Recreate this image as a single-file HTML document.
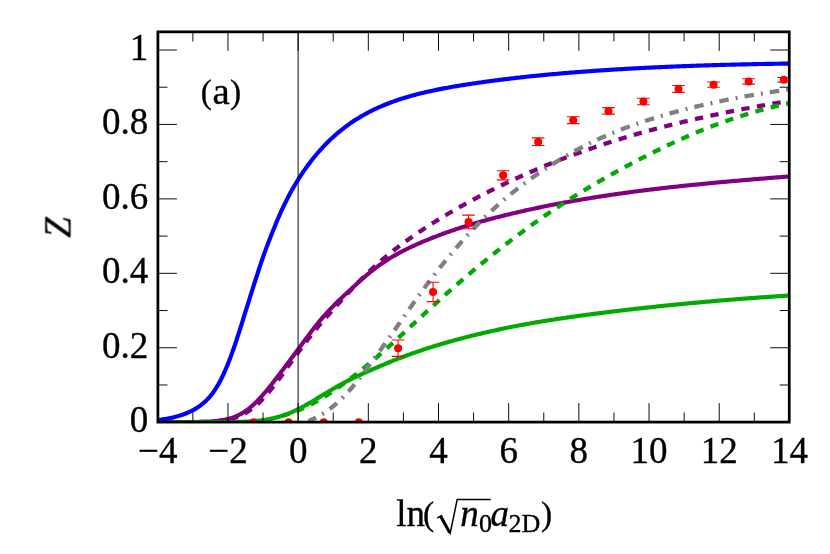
<!DOCTYPE html>
<html><head><meta charset="utf-8"><title>Z plot</title>
<style>html,body{margin:0;padding:0;background:#fff;}svg{display:block;font-family:"Liberation Serif",serif;}</style></head><body>
<svg width="830" height="554" viewBox="0 0 830 554">
<rect x="0" y="0" width="830" height="554" fill="#ffffff"/>
<defs><clipPath id="clip"><rect x="157.90" y="31.85" width="631.35" height="390.25"/></clipPath></defs>
<g clip-path="url(#clip)" fill="none" stroke-linecap="butt" stroke-linejoin="round">
<path d="M157.78 422.20L159.05 422.20L160.31 422.20L161.58 422.20L162.84 422.20L164.11 422.19L165.37 422.19L166.64 422.19L167.91 422.19L169.17 422.19L170.44 422.19L171.70 422.19L172.97 422.19L174.24 422.18L175.50 422.18L176.77 422.18L178.03 422.18L179.30 422.17L180.56 422.17L181.83 422.16L183.10 422.16L184.36 422.15L185.63 422.14L186.89 422.14L188.16 422.13L189.42 422.12L190.69 422.10L191.96 422.09L193.22 422.07L194.49 422.06L195.75 422.04L197.02 422.01L198.28 421.99L199.55 421.96L200.82 421.92L202.08 421.89L203.35 421.85L204.61 421.80L205.88 421.75L207.15 421.69L208.41 421.62L209.68 421.55L210.94 421.46L212.21 421.37L213.47 421.27L214.74 421.15L216.01 421.03L217.27 420.88L218.54 420.73L219.80 420.56L221.07 420.37L222.33 420.16L223.60 419.93L224.87 419.68L226.13 419.40L227.40 419.10L228.66 418.78L229.93 418.42L231.19 418.04L232.46 417.62L233.73 417.17L234.99 416.68L236.26 416.15L237.52 415.59L238.79 414.98L240.06 414.33L241.32 413.64L242.59 412.91L243.85 412.13L245.12 411.30L246.38 410.43L247.65 409.50L248.92 408.53L250.18 407.51L251.45 406.45L252.71 405.34L253.98 404.18L255.24 402.98L256.51 401.74L257.78 400.46L259.04 399.14L260.31 397.78L261.57 396.39L262.84 394.96L264.10 393.51L265.37 392.03L266.64 390.52L267.90 388.98L269.17 387.43L270.43 385.85L271.70 384.26L272.97 382.65L274.23 381.03L275.50 379.39L276.76 377.74L278.03 376.09L279.29 374.43L280.56 372.76L281.83 371.09L283.09 369.41L284.36 367.73L285.62 366.04L286.89 364.36L288.15 362.67L289.42 360.98L290.69 359.29L291.95 357.60L293.22 355.91L294.48 354.22L295.75 352.52L297.01 350.81L298.28 349.11L299.55 347.39L300.81 345.68L302.08 343.96L303.34 342.24L304.61 340.53L305.88 338.82L307.14 337.11L308.41 335.42L309.67 333.73L310.94 332.06L312.20 330.40L313.47 328.77L314.74 327.15L316.00 325.55L317.27 323.98L318.53 322.43L319.80 320.91L321.06 319.41L322.33 317.93L323.60 316.48L324.86 315.04L326.13 313.64L327.39 312.25L328.66 310.88L329.92 309.53L331.19 308.21L332.46 306.90L333.72 305.61L334.99 304.33L336.25 303.08L337.52 301.83L338.79 300.60L340.05 299.38L341.32 298.18L342.58 296.98L343.85 295.79L345.11 294.61L346.38 293.43L347.65 292.26L348.91 291.09L350.18 289.93L351.44 288.76L352.71 287.60L353.97 286.43L355.24 285.27L356.51 284.11L357.77 282.96L359.04 281.81L360.30 280.67L361.57 279.55L362.83 278.43L364.10 277.32L365.37 276.23L366.63 275.15L367.90 274.09L369.16 273.04L370.43 272.01L371.70 271.01L372.96 270.01L374.23 269.04L375.49 268.08L376.76 267.14L378.02 266.21L379.29 265.31L380.56 264.41L381.82 263.54L383.09 262.68L384.35 261.83L385.62 261.00L386.88 260.18L388.15 259.38L389.42 258.59L390.68 257.82L391.95 257.06L393.21 256.31L394.48 255.58L395.75 254.86L397.01 254.15L398.28 253.45L399.54 252.76L400.81 252.09L402.07 251.42L403.34 250.77L404.61 250.12L405.87 249.49L407.14 248.86L408.40 248.25L409.67 247.64L410.93 247.04L412.20 246.45L413.47 245.86L414.73 245.29L416.00 244.72L417.26 244.15L418.53 243.60L419.79 243.04L421.06 242.50L422.33 241.96L423.59 241.42L424.86 240.89L426.12 240.36L427.39 239.84L428.66 239.32L429.92 238.81L431.19 238.30L432.45 237.80L433.72 237.30L434.98 236.81L436.25 236.32L437.52 235.83L438.78 235.35L440.05 234.88L441.31 234.41L442.58 233.94L443.84 233.48L445.11 233.02L446.38 232.56L447.64 232.11L448.91 231.67L450.17 231.22L451.44 230.78L452.70 230.35L453.97 229.92L455.24 229.49L456.50 229.07L457.77 228.65L459.03 228.24L460.30 227.83L461.57 227.42L462.83 227.01L464.10 226.61L465.36 226.22L466.63 225.82L467.89 225.43L469.16 225.04L470.43 224.66L471.69 224.28L472.96 223.90L474.22 223.53L475.49 223.16L476.75 222.79L478.02 222.43L479.29 222.06L480.55 221.70L481.82 221.35L483.08 221.00L484.35 220.65L485.61 220.30L486.88 219.95L488.15 219.61L489.41 219.27L490.68 218.93L491.94 218.60L493.21 218.27L494.48 217.94L495.74 217.61L497.01 217.28L498.27 216.96L499.54 216.64L500.80 216.32L502.07 216.01L503.34 215.69L504.60 215.38L505.87 215.07L507.13 214.76L508.40 214.45L509.66 214.15L510.93 213.84L512.20 213.54L513.46 213.24L514.73 212.95L515.99 212.65L517.26 212.36L518.52 212.06L519.79 211.77L521.06 211.48L522.32 211.20L523.59 210.91L524.85 210.63L526.12 210.34L527.39 210.06L528.65 209.79L529.92 209.51L531.18 209.23L532.45 208.96L533.71 208.69L534.98 208.42L536.25 208.15L537.51 207.88L538.78 207.62L540.04 207.35L541.31 207.09L542.57 206.83L543.84 206.57L545.11 206.31L546.37 206.06L547.64 205.80L548.90 205.55L550.17 205.30L551.43 205.05L552.70 204.80L553.97 204.55L555.23 204.31L556.50 204.06L557.76 203.82L559.03 203.58L560.30 203.34L561.56 203.10L562.83 202.87L564.09 202.63L565.36 202.40L566.62 202.17L567.89 201.94L569.16 201.71L570.42 201.48L571.69 201.25L572.95 201.03L574.22 200.81L575.48 200.58L576.75 200.36L578.02 200.14L579.28 199.93L580.55 199.71L581.81 199.49L583.08 199.28L584.35 199.07L585.61 198.86L586.88 198.65L588.14 198.44L589.41 198.23L590.67 198.02L591.94 197.82L593.21 197.62L594.47 197.41L595.74 197.21L597.00 197.01L598.27 196.81L599.53 196.62L600.80 196.42L602.07 196.23L603.33 196.03L604.60 195.84L605.86 195.65L607.13 195.46L608.39 195.27L609.66 195.08L610.93 194.89L612.19 194.71L613.46 194.52L614.72 194.34L615.99 194.16L617.26 193.98L618.52 193.80L619.79 193.62L621.05 193.44L622.32 193.27L623.58 193.09L624.85 192.92L626.12 192.74L627.38 192.57L628.65 192.40L629.91 192.23L631.18 192.06L632.44 191.89L633.71 191.72L634.98 191.56L636.24 191.39L637.51 191.23L638.77 191.06L640.04 190.90L641.30 190.74L642.57 190.58L643.84 190.42L645.10 190.26L646.37 190.10L647.63 189.95L648.90 189.79L650.17 189.64L651.43 189.48L652.70 189.33L653.96 189.18L655.23 189.03L656.49 188.88L657.76 188.73L659.03 188.58L660.29 188.43L661.56 188.28L662.82 188.14L664.09 187.99L665.35 187.85L666.62 187.70L667.89 187.56L669.15 187.42L670.42 187.27L671.68 187.13L672.95 186.99L674.21 186.85L675.48 186.72L676.75 186.58L678.01 186.44L679.28 186.31L680.54 186.17L681.81 186.04L683.08 185.90L684.34 185.77L685.61 185.63L686.87 185.50L688.14 185.37L689.40 185.24L690.67 185.11L691.94 184.98L693.20 184.85L694.47 184.72L695.73 184.60L697.00 184.47L698.26 184.34L699.53 184.22L700.80 184.09L702.06 183.97L703.33 183.85L704.59 183.72L705.86 183.60L707.12 183.48L708.39 183.36L709.66 183.23L710.92 183.11L712.19 182.99L713.45 182.88L714.72 182.76L715.99 182.64L717.25 182.52L718.52 182.40L719.78 182.29L721.05 182.17L722.31 182.05L723.58 181.94L724.85 181.82L726.11 181.71L727.38 181.59L728.64 181.48L729.91 181.37L731.17 181.26L732.44 181.14L733.71 181.03L734.97 180.92L736.24 180.81L737.50 180.70L738.77 180.59L740.03 180.48L741.30 180.37L742.57 180.26L743.83 180.15L745.10 180.04L746.36 179.93L747.63 179.83L748.90 179.72L750.16 179.61L751.43 179.50L752.69 179.40L753.96 179.29L755.22 179.19L756.49 179.08L757.76 178.97L759.02 178.87L760.29 178.76L761.55 178.66L762.82 178.56L764.08 178.45L765.35 178.35L766.62 178.24L767.88 178.14L769.15 178.04L770.41 177.93L771.68 177.83L772.94 177.73L774.21 177.63L775.48 177.52L776.74 177.42L778.01 177.32L779.27 177.22L780.54 177.12L781.81 177.02L783.07 176.91L784.34 176.81L785.60 176.71L786.87 176.61L788.13 176.51L789.40 176.41" stroke="#800080" stroke-width="4.15"/>
<path d="M157.78 422.19L159.05 422.19L160.31 422.19L161.58 422.19L162.84 422.19L164.11 422.19L165.37 422.19L166.64 422.18L167.91 422.18L169.17 422.18L170.44 422.18L171.70 422.18L172.97 422.18L174.24 422.17L175.50 422.17L176.77 422.17L178.03 422.16L179.30 422.16L180.56 422.16L181.83 422.15L183.10 422.15L184.36 422.14L185.63 422.14L186.89 422.13L188.16 422.12L189.42 422.11L190.69 422.10L191.96 422.09L193.22 422.08L194.49 422.06L195.75 422.05L197.02 422.03L198.28 422.01L199.55 421.98L200.82 421.96L202.08 421.93L203.35 421.90L204.61 421.86L205.88 421.82L207.15 421.77L208.41 421.72L209.68 421.67L210.94 421.60L212.21 421.53L213.47 421.45L214.74 421.36L216.01 421.26L217.27 421.15L218.54 421.03L219.80 420.90L221.07 420.75L222.33 420.59L223.60 420.40L224.87 420.20L226.13 419.99L227.40 419.75L228.66 419.48L229.93 419.20L231.19 418.88L232.46 418.54L233.73 418.17L234.99 417.77L236.26 417.34L237.52 416.87L238.79 416.37L240.06 415.83L241.32 415.25L242.59 414.63L243.85 413.97L245.12 413.27L246.38 412.53L247.65 411.74L248.92 410.91L250.18 410.04L251.45 409.12L252.71 408.16L253.98 407.15L255.24 406.10L256.51 405.00L257.78 403.86L259.04 402.67L260.31 401.44L261.57 400.17L262.84 398.86L264.10 397.50L265.37 396.11L266.64 394.68L267.90 393.21L269.17 391.71L270.43 390.17L271.70 388.61L272.97 387.01L274.23 385.39L275.50 383.74L276.76 382.07L278.03 380.38L279.29 378.67L280.56 376.94L281.83 375.21L283.09 373.45L284.36 371.69L285.62 369.92L286.89 368.15L288.15 366.37L289.42 364.59L290.69 362.81L291.95 361.03L293.22 359.26L294.48 357.49L295.75 355.73L297.01 353.98L298.28 352.23L299.55 350.50L300.81 348.77L302.08 347.06L303.34 345.37L304.61 343.68L305.88 342.01L307.14 340.36L308.41 338.72L309.67 337.10L310.94 335.49L312.20 333.90L313.47 332.32L314.74 330.76L316.00 329.22L317.27 327.69L318.53 326.17L319.80 324.67L321.06 323.18L322.33 321.70L323.60 320.23L324.86 318.78L326.13 317.33L327.39 315.89L328.66 314.46L329.92 313.04L331.19 311.62L332.46 310.21L333.72 308.79L334.99 307.38L336.25 305.98L337.52 304.57L338.79 303.17L340.05 301.77L341.32 300.38L342.58 298.99L343.85 297.60L345.11 296.22L346.38 294.85L347.65 293.48L348.91 292.12L350.18 290.76L351.44 289.41L352.71 288.07L353.97 286.74L355.24 285.42L356.51 284.11L357.77 282.80L359.04 281.50L360.30 280.22L361.57 278.94L362.83 277.68L364.10 276.43L365.37 275.18L366.63 273.95L367.90 272.73L369.16 271.53L370.43 270.33L371.70 269.15L372.96 267.98L374.23 266.82L375.49 265.67L376.76 264.54L378.02 263.41L379.29 262.30L380.56 261.20L381.82 260.11L383.09 259.03L384.35 257.96L385.62 256.91L386.88 255.86L388.15 254.82L389.42 253.80L390.68 252.78L391.95 251.77L393.21 250.77L394.48 249.78L395.75 248.80L397.01 247.83L398.28 246.87L399.54 245.91L400.81 244.96L402.07 244.02L403.34 243.09L404.61 242.17L405.87 241.25L407.14 240.34L408.40 239.43L409.67 238.53L410.93 237.64L412.20 236.75L413.47 235.87L414.73 234.99L416.00 234.12L417.26 233.26L418.53 232.40L419.79 231.54L421.06 230.70L422.33 229.85L423.59 229.01L424.86 228.18L426.12 227.35L427.39 226.53L428.66 225.71L429.92 224.90L431.19 224.09L432.45 223.29L433.72 222.49L434.98 221.70L436.25 220.91L437.52 220.12L438.78 219.34L440.05 218.56L441.31 217.79L442.58 217.03L443.84 216.26L445.11 215.50L446.38 214.75L447.64 214.00L448.91 213.25L450.17 212.51L451.44 211.77L452.70 211.04L453.97 210.31L455.24 209.58L456.50 208.86L457.77 208.14L459.03 207.42L460.30 206.71L461.57 206.00L462.83 205.30L464.10 204.60L465.36 203.90L466.63 203.21L467.89 202.52L469.16 201.83L470.43 201.15L471.69 200.47L472.96 199.79L474.22 199.12L475.49 198.45L476.75 197.78L478.02 197.12L479.29 196.46L480.55 195.80L481.82 195.15L483.08 194.50L484.35 193.85L485.61 193.20L486.88 192.56L488.15 191.92L489.41 191.28L490.68 190.65L491.94 190.02L493.21 189.39L494.48 188.76L495.74 188.14L497.01 187.52L498.27 186.90L499.54 186.28L500.80 185.67L502.07 185.06L503.34 184.45L504.60 183.85L505.87 183.24L507.13 182.64L508.40 182.05L509.66 181.45L510.93 180.86L512.20 180.27L513.46 179.68L514.73 179.10L515.99 178.52L517.26 177.94L518.52 177.36L519.79 176.79L521.06 176.22L522.32 175.65L523.59 175.08L524.85 174.52L526.12 173.96L527.39 173.40L528.65 172.84L529.92 172.29L531.18 171.74L532.45 171.19L533.71 170.65L534.98 170.10L536.25 169.56L537.51 169.03L538.78 168.49L540.04 167.96L541.31 167.43L542.57 166.90L543.84 166.38L545.11 165.85L546.37 165.33L547.64 164.81L548.90 164.30L550.17 163.79L551.43 163.28L552.70 162.77L553.97 162.26L555.23 161.76L556.50 161.26L557.76 160.76L559.03 160.27L560.30 159.77L561.56 159.28L562.83 158.79L564.09 158.31L565.36 157.82L566.62 157.34L567.89 156.86L569.16 156.39L570.42 155.91L571.69 155.44L572.95 154.97L574.22 154.50L575.48 154.04L576.75 153.58L578.02 153.12L579.28 152.66L580.55 152.20L581.81 151.75L583.08 151.30L584.35 150.85L585.61 150.40L586.88 149.96L588.14 149.51L589.41 149.07L590.67 148.64L591.94 148.20L593.21 147.77L594.47 147.34L595.74 146.91L597.00 146.48L598.27 146.05L599.53 145.63L600.80 145.21L602.07 144.79L603.33 144.38L604.60 143.96L605.86 143.55L607.13 143.14L608.39 142.73L609.66 142.32L610.93 141.92L612.19 141.52L613.46 141.12L614.72 140.72L615.99 140.32L617.26 139.93L618.52 139.54L619.79 139.15L621.05 138.76L622.32 138.37L623.58 137.99L624.85 137.61L626.12 137.23L627.38 136.85L628.65 136.47L629.91 136.10L631.18 135.73L632.44 135.36L633.71 134.99L634.98 134.62L636.24 134.25L637.51 133.89L638.77 133.53L640.04 133.17L641.30 132.81L642.57 132.46L643.84 132.10L645.10 131.75L646.37 131.40L647.63 131.05L648.90 130.70L650.17 130.36L651.43 130.01L652.70 129.67L653.96 129.33L655.23 128.99L656.49 128.66L657.76 128.32L659.03 127.99L660.29 127.65L661.56 127.32L662.82 127.00L664.09 126.67L665.35 126.34L666.62 126.02L667.89 125.70L669.15 125.38L670.42 125.06L671.68 124.74L672.95 124.43L674.21 124.11L675.48 123.80L676.75 123.49L678.01 123.18L679.28 122.87L680.54 122.56L681.81 122.26L683.08 121.95L684.34 121.65L685.61 121.35L686.87 121.05L688.14 120.76L689.40 120.46L690.67 120.16L691.94 119.87L693.20 119.58L694.47 119.29L695.73 119.00L697.00 118.71L698.26 118.43L699.53 118.14L700.80 117.86L702.06 117.57L703.33 117.29L704.59 117.01L705.86 116.74L707.12 116.46L708.39 116.18L709.66 115.91L710.92 115.64L712.19 115.37L713.45 115.09L714.72 114.83L715.99 114.56L717.25 114.29L718.52 114.03L719.78 113.76L721.05 113.50L722.31 113.24L723.58 112.98L724.85 112.72L726.11 112.46L727.38 112.20L728.64 111.95L729.91 111.69L731.17 111.44L732.44 111.19L733.71 110.94L734.97 110.69L736.24 110.44L737.50 110.19L738.77 109.95L740.03 109.70L741.30 109.46L742.57 109.21L743.83 108.97L745.10 108.73L746.36 108.49L747.63 108.25L748.90 108.01L750.16 107.78L751.43 107.54L752.69 107.31L753.96 107.08L755.22 106.84L756.49 106.61L757.76 106.38L759.02 106.15L760.29 105.92L761.55 105.70L762.82 105.47L764.08 105.25L765.35 105.02L766.62 104.80L767.88 104.58L769.15 104.35L770.41 104.13L771.68 103.91L772.94 103.70L774.21 103.48L775.48 103.26L776.74 103.05L778.01 102.83L779.27 102.62L780.54 102.41L781.81 102.19L783.07 101.98L784.34 101.77L785.60 101.56L786.87 101.35L788.13 101.15L789.40 100.94" stroke="#800080" stroke-width="4.3" stroke-dasharray="8.3 7.5" stroke-dashoffset="6.58"/>
<path d="M157.78 422.20L159.05 422.20L160.31 422.20L161.58 422.20L162.84 422.20L164.11 422.20L165.37 422.20L166.64 422.20L167.91 422.20L169.17 422.20L170.44 422.20L171.70 422.20L172.97 422.20L174.24 422.20L175.50 422.20L176.77 422.20L178.03 422.20L179.30 422.20L180.56 422.20L181.83 422.20L183.10 422.20L184.36 422.20L185.63 422.20L186.89 422.20L188.16 422.20L189.42 422.20L190.69 422.20L191.96 422.20L193.22 422.20L194.49 422.19L195.75 422.19L197.02 422.19L198.28 422.19L199.55 422.19L200.82 422.19L202.08 422.19L203.35 422.19L204.61 422.19L205.88 422.18L207.15 422.18L208.41 422.18L209.68 422.18L210.94 422.18L212.21 422.17L213.47 422.17L214.74 422.17L216.01 422.16L217.27 422.16L218.54 422.15L219.80 422.14L221.07 422.14L222.33 422.13L223.60 422.12L224.87 422.11L226.13 422.10L227.40 422.09L228.66 422.08L229.93 422.06L231.19 422.04L232.46 422.02L233.73 422.00L234.99 421.98L236.26 421.95L237.52 421.93L238.79 421.89L240.06 421.86L241.32 421.82L242.59 421.78L243.85 421.73L245.12 421.68L246.38 421.62L247.65 421.55L248.92 421.48L250.18 421.41L251.45 421.32L252.71 421.23L253.98 421.13L255.24 421.02L256.51 420.91L257.78 420.78L259.04 420.64L260.31 420.50L261.57 420.34L262.84 420.16L264.10 419.98L265.37 419.79L266.64 419.58L267.90 419.35L269.17 419.12L270.43 418.86L271.70 418.60L272.97 418.32L274.23 418.02L275.50 417.70L276.76 417.37L278.03 417.02L279.29 416.66L280.56 416.28L281.83 415.88L283.09 415.46L284.36 415.02L285.62 414.57L286.89 414.10L288.15 413.61L289.42 413.11L290.69 412.58L291.95 412.04L293.22 411.48L294.48 410.91L295.75 410.32L297.01 409.71L298.28 409.09L299.55 408.46L300.81 407.81L302.08 407.14L303.34 406.47L304.61 405.78L305.88 405.08L307.14 404.37L308.41 403.65L309.67 402.92L310.94 402.18L312.20 401.43L313.47 400.68L314.74 399.92L316.00 399.16L317.27 398.40L318.53 397.63L319.80 396.86L321.06 396.08L322.33 395.31L323.60 394.54L324.86 393.77L326.13 393.00L327.39 392.24L328.66 391.47L329.92 390.72L331.19 389.97L332.46 389.22L333.72 388.48L334.99 387.75L336.25 387.02L337.52 386.30L338.79 385.59L340.05 384.89L341.32 384.20L342.58 383.51L343.85 382.84L345.11 382.17L346.38 381.51L347.65 380.86L348.91 380.22L350.18 379.59L351.44 378.96L352.71 378.35L353.97 377.74L355.24 377.14L356.51 376.54L357.77 375.95L359.04 375.37L360.30 374.79L361.57 374.22L362.83 373.65L364.10 373.09L365.37 372.53L366.63 371.97L367.90 371.42L369.16 370.86L370.43 370.31L371.70 369.75L372.96 369.20L374.23 368.65L375.49 368.10L376.76 367.56L378.02 367.01L379.29 366.47L380.56 365.93L381.82 365.39L383.09 364.85L384.35 364.32L385.62 363.79L386.88 363.27L388.15 362.74L389.42 362.22L390.68 361.71L391.95 361.19L393.21 360.68L394.48 360.18L395.75 359.68L397.01 359.18L398.28 358.68L399.54 358.19L400.81 357.70L402.07 357.22L403.34 356.74L404.61 356.26L405.87 355.79L407.14 355.32L408.40 354.86L409.67 354.39L410.93 353.94L412.20 353.48L413.47 353.03L414.73 352.59L416.00 352.14L417.26 351.71L418.53 351.27L419.79 350.84L421.06 350.41L422.33 349.99L423.59 349.57L424.86 349.15L426.12 348.74L427.39 348.33L428.66 347.92L429.92 347.52L431.19 347.12L432.45 346.72L433.72 346.33L434.98 345.94L436.25 345.55L437.52 345.17L438.78 344.79L440.05 344.41L441.31 344.04L442.58 343.67L443.84 343.30L445.11 342.94L446.38 342.57L447.64 342.21L448.91 341.86L450.17 341.50L451.44 341.15L452.70 340.80L453.97 340.45L455.24 340.11L456.50 339.77L457.77 339.43L459.03 339.09L460.30 338.75L461.57 338.42L462.83 338.08L464.10 337.75L465.36 337.43L466.63 337.10L467.89 336.78L469.16 336.45L470.43 336.14L471.69 335.82L472.96 335.50L474.22 335.19L475.49 334.88L476.75 334.57L478.02 334.26L479.29 333.96L480.55 333.66L481.82 333.36L483.08 333.06L484.35 332.76L485.61 332.47L486.88 332.18L488.15 331.89L489.41 331.60L490.68 331.31L491.94 331.03L493.21 330.75L494.48 330.47L495.74 330.19L497.01 329.92L498.27 329.65L499.54 329.37L500.80 329.11L502.07 328.84L503.34 328.57L504.60 328.31L505.87 328.05L507.13 327.79L508.40 327.53L509.66 327.28L510.93 327.03L512.20 326.78L513.46 326.53L514.73 326.28L515.99 326.03L517.26 325.79L518.52 325.55L519.79 325.31L521.06 325.07L522.32 324.83L523.59 324.60L524.85 324.37L526.12 324.14L527.39 323.91L528.65 323.68L529.92 323.46L531.18 323.23L532.45 323.01L533.71 322.79L534.98 322.57L536.25 322.35L537.51 322.14L538.78 321.92L540.04 321.71L541.31 321.50L542.57 321.29L543.84 321.09L545.11 320.88L546.37 320.68L547.64 320.47L548.90 320.27L550.17 320.07L551.43 319.87L552.70 319.68L553.97 319.48L555.23 319.28L556.50 319.09L557.76 318.90L559.03 318.71L560.30 318.52L561.56 318.33L562.83 318.15L564.09 317.96L565.36 317.78L566.62 317.59L567.89 317.41L569.16 317.23L570.42 317.05L571.69 316.87L572.95 316.69L574.22 316.52L575.48 316.34L576.75 316.17L578.02 316.00L579.28 315.82L580.55 315.65L581.81 315.48L583.08 315.31L584.35 315.14L585.61 314.97L586.88 314.81L588.14 314.64L589.41 314.47L590.67 314.31L591.94 314.14L593.21 313.98L594.47 313.82L595.74 313.66L597.00 313.49L598.27 313.33L599.53 313.17L600.80 313.01L602.07 312.85L603.33 312.69L604.60 312.54L605.86 312.38L607.13 312.22L608.39 312.07L609.66 311.91L610.93 311.75L612.19 311.60L613.46 311.45L614.72 311.29L615.99 311.14L617.26 310.99L618.52 310.84L619.79 310.69L621.05 310.54L622.32 310.39L623.58 310.24L624.85 310.09L626.12 309.94L627.38 309.79L628.65 309.65L629.91 309.50L631.18 309.35L632.44 309.21L633.71 309.06L634.98 308.92L636.24 308.78L637.51 308.63L638.77 308.49L640.04 308.35L641.30 308.21L642.57 308.07L643.84 307.93L645.10 307.79L646.37 307.65L647.63 307.51L648.90 307.38L650.17 307.24L651.43 307.10L652.70 306.97L653.96 306.83L655.23 306.70L656.49 306.56L657.76 306.43L659.03 306.30L660.29 306.17L661.56 306.03L662.82 305.90L664.09 305.77L665.35 305.64L666.62 305.51L667.89 305.38L669.15 305.26L670.42 305.13L671.68 305.00L672.95 304.88L674.21 304.75L675.48 304.62L676.75 304.50L678.01 304.38L679.28 304.25L680.54 304.13L681.81 304.01L683.08 303.88L684.34 303.76L685.61 303.64L686.87 303.52L688.14 303.40L689.40 303.28L690.67 303.16L691.94 303.05L693.20 302.93L694.47 302.81L695.73 302.69L697.00 302.58L698.26 302.46L699.53 302.35L700.80 302.23L702.06 302.12L703.33 302.01L704.59 301.89L705.86 301.78L707.12 301.67L708.39 301.56L709.66 301.45L710.92 301.34L712.19 301.23L713.45 301.12L714.72 301.01L715.99 300.90L717.25 300.80L718.52 300.69L719.78 300.58L721.05 300.48L722.31 300.37L723.58 300.27L724.85 300.16L726.11 300.06L727.38 299.95L728.64 299.85L729.91 299.75L731.17 299.65L732.44 299.55L733.71 299.45L734.97 299.35L736.24 299.25L737.50 299.15L738.77 299.05L740.03 298.95L741.30 298.85L742.57 298.75L743.83 298.66L745.10 298.56L746.36 298.46L747.63 298.37L748.90 298.27L750.16 298.18L751.43 298.09L752.69 297.99L753.96 297.90L755.22 297.81L756.49 297.72L757.76 297.62L759.02 297.53L760.29 297.44L761.55 297.35L762.82 297.26L764.08 297.17L765.35 297.08L766.62 297.00L767.88 296.91L769.15 296.82L770.41 296.73L771.68 296.65L772.94 296.56L774.21 296.48L775.48 296.39L776.74 296.31L778.01 296.22L779.27 296.14L780.54 296.05L781.81 295.97L783.07 295.89L784.34 295.81L785.60 295.73L786.87 295.64L788.13 295.56L789.40 295.48" stroke="#00aa00" stroke-width="4.15"/>
<path d="M281.65 416.01L282.67 415.74L283.68 415.45L284.70 415.16L285.72 414.86L286.74 414.55L287.75 414.23L288.77 413.90L289.79 413.56L290.81 413.21L291.82 412.86L292.84 412.49L293.86 412.12L294.88 411.73L295.89 411.34L296.91 410.94L297.93 410.52L298.95 410.10L299.96 409.67L300.98 409.23L302.00 408.79L303.02 408.33L304.03 407.86L305.05 407.39L306.07 406.90L307.09 406.41L308.10 405.91L309.12 405.40L310.14 404.88L311.16 404.35L312.17 403.81L313.19 403.27L314.21 402.71L315.23 402.15L316.24 401.58L317.26 401.00L318.28 400.42L319.30 399.83L320.31 399.22L321.33 398.62L322.35 398.00L323.37 397.38L324.38 396.75L325.40 396.11L326.42 395.47L327.44 394.82L328.45 394.16L329.47 393.50L330.49 392.83L331.51 392.16L332.52 391.48L333.54 390.79L334.56 390.10L335.58 389.40L336.59 388.70L337.61 387.99L338.63 387.27L339.65 386.55L340.67 385.83L341.68 385.10L342.70 384.36L343.72 383.63L344.74 382.88L345.75 382.13L346.77 381.38L347.79 380.62L348.81 379.86L349.82 379.09L350.84 378.32L351.86 377.55L352.88 376.77L353.89 375.99L354.91 375.20L355.93 374.41L356.95 373.61L357.96 372.81L358.98 372.01L360.00 371.20L361.02 370.38L362.03 369.57L363.05 368.75L364.07 367.92L365.09 367.09L366.10 366.25L367.12 365.41L368.14 364.57L369.16 363.72L370.17 362.86L371.19 362.01L372.21 361.14L373.23 360.28L374.24 359.41L375.26 358.53L376.28 357.65L377.30 356.77L378.31 355.88L379.33 354.99L380.35 354.10L381.37 353.20L382.38 352.30L383.40 351.40L384.42 350.50L385.44 349.59L386.45 348.68L387.47 347.76L388.49 346.85L389.51 345.93L390.52 345.01L391.54 344.09L392.56 343.16L393.58 342.24L394.59 341.31L395.61 340.38L396.63 339.45L397.65 338.51L398.66 337.58L399.68 336.64L400.70 335.71L401.72 334.77L402.73 333.83L403.75 332.89L404.77 331.95L405.79 331.01L406.81 330.06L407.82 329.12L408.84 328.18L409.86 327.24L410.88 326.29L411.89 325.35L412.91 324.41L413.93 323.46L414.95 322.52L415.96 321.58L416.98 320.63L418.00 319.69L419.02 318.75L420.03 317.81L421.05 316.87L422.07 315.93L423.09 314.99L424.10 314.05L425.12 313.11L426.14 312.18L427.16 311.24L428.17 310.31L429.19 309.37L430.21 308.44L431.23 307.51L432.24 306.58L433.26 305.65L434.28 304.73L435.30 303.80L436.31 302.88L437.33 301.95L438.35 301.03L439.37 300.11L440.38 299.20L441.40 298.28L442.42 297.37L443.44 296.45L444.45 295.54L445.47 294.63L446.49 293.73L447.51 292.82L448.52 291.92L449.54 291.02L450.56 290.12L451.58 289.22L452.59 288.32L453.61 287.43L454.63 286.54L455.65 285.65L456.66 284.76L457.68 283.88L458.70 282.99L459.72 282.11L460.73 281.23L461.75 280.36L462.77 279.48L463.79 278.61L464.80 277.74L465.82 276.87L466.84 276.00L467.86 275.14L468.88 274.28L469.89 273.42L470.91 272.56L471.93 271.70L472.95 270.85L473.96 270.00L474.98 269.15L476.00 268.30L477.02 267.45L478.03 266.61L479.05 265.77L480.07 264.93L481.09 264.09L482.10 263.25L483.12 262.42L484.14 261.58L485.16 260.75L486.17 259.92L487.19 259.10L488.21 258.27L489.23 257.45L490.24 256.63L491.26 255.81L492.28 254.99L493.30 254.17L494.31 253.36L495.33 252.55L496.35 251.74L497.37 250.93L498.38 250.13L499.40 249.32L500.42 248.52L501.44 247.72L502.45 246.93L503.47 246.13L504.49 245.34L505.51 244.55L506.52 243.76L507.54 242.98L508.56 242.19L509.58 241.41L510.59 240.63L511.61 239.85L512.63 239.08L513.65 238.31L514.66 237.54L515.68 236.77L516.70 236.00L517.72 235.24L518.73 234.48L519.75 233.72L520.77 232.96L521.79 232.21L522.80 231.46L523.82 230.71L524.84 229.96L525.86 229.22L526.87 228.47L527.89 227.73L528.91 227.00L529.93 226.26L530.94 225.53L531.96 224.80L532.98 224.07L534.00 223.34L535.02 222.62L536.03 221.89L537.05 221.18L538.07 220.46L539.09 219.74L540.10 219.03L541.12 218.32L542.14 217.61L543.16 216.91L544.17 216.20L545.19 215.50L546.21 214.80L547.23 214.11L548.24 213.41L549.26 212.72L550.28 212.03L551.30 211.35L552.31 210.66L553.33 209.98L554.35 209.30L555.37 208.62L556.38 207.94L557.40 207.27L558.42 206.60L559.44 205.93L560.45 205.26L561.47 204.60L562.49 203.93L563.51 203.27L564.52 202.61L565.54 201.96L566.56 201.30L567.58 200.65L568.59 200.00L569.61 199.35L570.63 198.71L571.65 198.06L572.66 197.42L573.68 196.78L574.70 196.15L575.72 195.51L576.73 194.88L577.75 194.25L578.77 193.62L579.79 192.99L580.80 192.37L581.82 191.74L582.84 191.12L583.86 190.50L584.87 189.89L585.89 189.27L586.91 188.66L587.93 188.05L588.94 187.44L589.96 186.83L590.98 186.22L592.00 185.62L593.01 185.02L594.03 184.42L595.05 183.82L596.07 183.23L597.09 182.63L598.10 182.04L599.12 181.45L600.14 180.86L601.16 180.27L602.17 179.69L603.19 179.11L604.21 178.52L605.23 177.94L606.24 177.37L607.26 176.79L608.28 176.21L609.30 175.64L610.31 175.07L611.33 174.50L612.35 173.93L613.37 173.37L614.38 172.80L615.40 172.24L616.42 171.68L617.44 171.12L618.45 170.56L619.47 170.00L620.49 169.45L621.51 168.90L622.52 168.34L623.54 167.79L624.56 167.25L625.58 166.70L626.59 166.15L627.61 165.61L628.63 165.07L629.65 164.52L630.66 163.98L631.68 163.45L632.70 162.91L633.72 162.37L634.73 161.84L635.75 161.31L636.77 160.78L637.79 160.25L638.80 159.72L639.82 159.19L640.84 158.67L641.86 158.14L642.87 157.62L643.89 157.10L644.91 156.58L645.93 156.06L646.94 155.54L647.96 155.03L648.98 154.51L650.00 154.00L651.01 153.49L652.03 152.98L653.05 152.47L654.07 151.96L655.08 151.46L656.10 150.96L657.12 150.45L658.14 149.95L659.15 149.45L660.17 148.96L661.19 148.46L662.21 147.97L663.23 147.48L664.24 146.99L665.26 146.50L666.28 146.01L667.30 145.53L668.31 145.05L669.33 144.57L670.35 144.09L671.37 143.61L672.38 143.14L673.40 142.66L674.42 142.19L675.44 141.72L676.45 141.25L677.47 140.79L678.49 140.33L679.51 139.86L680.52 139.41L681.54 138.95L682.56 138.49L683.58 138.04L684.59 137.59L685.61 137.14L686.63 136.69L687.65 136.25L688.66 135.81L689.68 135.36L690.70 134.93L691.72 134.49L692.73 134.06L693.75 133.62L694.77 133.19L695.79 132.77L696.80 132.34L697.82 131.92L698.84 131.50L699.86 131.08L700.87 130.66L701.89 130.25L702.91 129.83L703.93 129.42L704.94 129.01L705.96 128.61L706.98 128.21L708.00 127.80L709.01 127.41L710.03 127.01L711.05 126.62L712.07 126.22L713.08 125.83L714.10 125.45L715.12 125.06L716.14 124.68L717.15 124.30L718.17 123.92L719.19 123.54L720.21 123.17L721.22 122.80L722.24 122.43L723.26 122.06L724.28 121.70L725.30 121.33L726.31 120.98L727.33 120.62L728.35 120.26L729.37 119.91L730.38 119.56L731.40 119.21L732.42 118.86L733.44 118.52L734.45 118.18L735.47 117.84L736.49 117.50L737.51 117.17L738.52 116.84L739.54 116.51L740.56 116.18L741.58 115.85L742.59 115.53L743.61 115.21L744.63 114.89L745.65 114.58L746.66 114.26L747.68 113.95L748.70 113.64L749.72 113.33L750.73 113.03L751.75 112.73L752.77 112.43L753.79 112.13L754.80 111.83L755.82 111.54L756.84 111.25L757.86 110.96L758.87 110.68L759.89 110.39L760.91 110.11L761.93 109.83L762.94 109.55L763.96 109.28L764.98 109.00L766.00 108.73L767.01 108.46L768.03 108.20L769.05 107.93L770.07 107.67L771.08 107.41L772.10 107.16L773.12 106.90L774.14 106.65L775.15 106.40L776.17 106.15L777.19 105.90L778.21 105.66L779.22 105.41L780.24 105.17L781.26 104.94L782.28 104.70L783.29 104.47L784.31 104.24L785.33 104.01L786.35 103.78L787.36 103.55L788.38 103.33L789.40 103.11" stroke="#00aa00" stroke-width="4.3" stroke-dasharray="8.3 7.5" stroke-dashoffset="0.32"/>
<path d="M308.49 420.88L309.46 420.52L310.42 420.15L311.38 419.75L312.35 419.34L313.31 418.91L314.27 418.47L315.24 418.01L316.20 417.53L317.17 417.03L318.13 416.52L319.09 415.99L320.06 415.44L321.02 414.88L321.98 414.29L322.95 413.70L323.91 413.08L324.88 412.45L325.84 411.80L326.80 411.13L327.77 410.45L328.73 409.74L329.69 409.02L330.66 408.29L331.62 407.54L332.59 406.77L333.55 405.98L334.51 405.17L335.48 404.35L336.44 403.51L337.40 402.65L338.37 401.78L339.33 400.89L340.30 399.98L341.26 399.05L342.22 398.11L343.19 397.15L344.15 396.17L345.11 395.17L346.08 394.16L347.04 393.13L348.01 392.08L348.97 391.02L349.93 389.93L350.90 388.83L351.86 387.71L352.82 386.58L353.79 385.43L354.75 384.26L355.72 383.08L356.68 381.88L357.64 380.67L358.61 379.45L359.57 378.22L360.53 376.97L361.50 375.72L362.46 374.45L363.42 373.18L364.39 371.90L365.35 370.62L366.32 369.33L367.28 368.03L368.24 366.74L369.21 365.43L370.17 364.13L371.13 362.82L372.10 361.51L373.06 360.19L374.03 358.87L374.99 357.55L375.95 356.22L376.92 354.89L377.88 353.56L378.84 352.23L379.81 350.89L380.77 349.55L381.74 348.21L382.70 346.86L383.66 345.52L384.63 344.17L385.59 342.81L386.55 341.46L387.52 340.10L388.48 338.74L389.45 337.38L390.41 336.02L391.37 334.65L392.34 333.28L393.30 331.91L394.26 330.54L395.23 329.17L396.19 327.80L397.16 326.42L398.12 325.04L399.08 323.66L400.05 322.28L401.01 320.90L401.97 319.52L402.94 318.14L403.90 316.76L404.87 315.38L405.83 314.00L406.79 312.62L407.76 311.25L408.72 309.87L409.68 308.50L410.65 307.13L411.61 305.76L412.58 304.40L413.54 303.04L414.50 301.68L415.47 300.32L416.43 298.97L417.39 297.63L418.36 296.29L419.32 294.95L420.29 293.62L421.25 292.30L422.21 290.98L423.18 289.66L424.14 288.35L425.10 287.05L426.07 285.75L427.03 284.45L428.00 283.16L428.96 281.88L429.92 280.60L430.89 279.33L431.85 278.06L432.81 276.80L433.78 275.54L434.74 274.29L435.71 273.05L436.67 271.81L437.63 270.57L438.60 269.34L439.56 268.12L440.52 266.90L441.49 265.69L442.45 264.48L443.42 263.28L444.38 262.09L445.34 260.90L446.31 259.72L447.27 258.54L448.23 257.37L449.20 256.20L450.16 255.04L451.13 253.88L452.09 252.73L453.05 251.59L454.02 250.45L454.98 249.32L455.94 248.20L456.91 247.08L457.87 245.97L458.84 244.86L459.80 243.76L460.76 242.66L461.73 241.57L462.69 240.49L463.65 239.41L464.62 238.34L465.58 237.28L466.55 236.22L467.51 235.17L468.47 234.12L469.44 233.08L470.40 232.05L471.36 231.02L472.33 230.00L473.29 228.98L474.26 227.97L475.22 226.97L476.18 225.97L477.15 224.98L478.11 224.00L479.07 223.02L480.04 222.05L481.00 221.08L481.97 220.12L482.93 219.16L483.89 218.21L484.86 217.27L485.82 216.33L486.78 215.40L487.75 214.48L488.71 213.56L489.68 212.64L490.64 211.74L491.60 210.83L492.57 209.94L493.53 209.05L494.49 208.16L495.46 207.28L496.42 206.41L497.39 205.54L498.35 204.68L499.31 203.82L500.28 202.97L501.24 202.12L502.20 201.28L503.17 200.45L504.13 199.62L505.10 198.79L506.06 197.98L507.02 197.16L507.99 196.36L508.95 195.55L509.91 194.76L510.88 193.97L511.84 193.18L512.81 192.40L513.77 191.62L514.73 190.85L515.70 190.09L516.66 189.33L517.62 188.57L518.59 187.83L519.55 187.08L520.52 186.34L521.48 185.61L522.44 184.88L523.41 184.15L524.37 183.43L525.33 182.72L526.30 182.01L527.26 181.30L528.23 180.60L529.19 179.90L530.15 179.21L531.12 178.52L532.08 177.84L533.04 177.16L534.01 176.48L534.97 175.81L535.94 175.14L536.90 174.48L537.86 173.82L538.83 173.16L539.79 172.51L540.75 171.86L541.72 171.22L542.68 170.57L543.65 169.94L544.61 169.30L545.57 168.67L546.54 168.04L547.50 167.42L548.46 166.80L549.43 166.18L550.39 165.57L551.36 164.96L552.32 164.35L553.28 163.74L554.25 163.14L555.21 162.54L556.17 161.95L557.14 161.35L558.10 160.76L559.07 160.17L560.03 159.59L560.99 159.01L561.96 158.43L562.92 157.85L563.88 157.28L564.85 156.71L565.81 156.14L566.78 155.58L567.74 155.02L568.70 154.46L569.67 153.91L570.63 153.36L571.59 152.81L572.56 152.27L573.52 151.73L574.49 151.20L575.45 150.66L576.41 150.14L577.38 149.61L578.34 149.09L579.30 148.58L580.27 148.07L581.23 147.56L582.19 147.05L583.16 146.55L584.12 146.06L585.09 145.56L586.05 145.07L587.01 144.59L587.98 144.11L588.94 143.63L589.90 143.15L590.87 142.68L591.83 142.21L592.80 141.75L593.76 141.29L594.72 140.83L595.69 140.38L596.65 139.93L597.61 139.48L598.58 139.04L599.54 138.60L600.51 138.16L601.47 137.73L602.43 137.30L603.40 136.87L604.36 136.45L605.32 136.02L606.29 135.61L607.25 135.19L608.22 134.78L609.18 134.37L610.14 133.97L611.11 133.56L612.07 133.16L613.03 132.77L614.00 132.37L614.96 131.98L615.93 131.59L616.89 131.21L617.85 130.83L618.82 130.45L619.78 130.07L620.74 129.69L621.71 129.32L622.67 128.95L623.64 128.59L624.60 128.22L625.56 127.86L626.53 127.50L627.49 127.14L628.45 126.79L629.42 126.44L630.38 126.09L631.35 125.74L632.31 125.40L633.27 125.05L634.24 124.71L635.20 124.37L636.16 124.04L637.13 123.70L638.09 123.37L639.06 123.04L640.02 122.72L640.98 122.39L641.95 122.07L642.91 121.74L643.87 121.43L644.84 121.11L645.80 120.79L646.77 120.48L647.73 120.17L648.69 119.86L649.66 119.55L650.62 119.24L651.58 118.94L652.55 118.63L653.51 118.33L654.48 118.03L655.44 117.73L656.40 117.44L657.37 117.14L658.33 116.85L659.29 116.56L660.26 116.27L661.22 115.98L662.19 115.69L663.15 115.41L664.11 115.13L665.08 114.85L666.04 114.57L667.00 114.29L667.97 114.01L668.93 113.74L669.90 113.46L670.86 113.19L671.82 112.92L672.79 112.65L673.75 112.38L674.71 112.12L675.68 111.86L676.64 111.59L677.61 111.33L678.57 111.07L679.53 110.81L680.50 110.56L681.46 110.30L682.42 110.05L683.39 109.80L684.35 109.55L685.32 109.30L686.28 109.05L687.24 108.80L688.21 108.56L689.17 108.32L690.13 108.08L691.10 107.83L692.06 107.60L693.03 107.36L693.99 107.12L694.95 106.89L695.92 106.65L696.88 106.42L697.84 106.19L698.81 105.96L699.77 105.73L700.74 105.51L701.70 105.28L702.66 105.06L703.63 104.84L704.59 104.61L705.55 104.39L706.52 104.18L707.48 103.96L708.45 103.74L709.41 103.53L710.37 103.31L711.34 103.10L712.30 102.89L713.26 102.68L714.23 102.47L715.19 102.26L716.16 102.06L717.12 101.85L718.08 101.65L719.05 101.45L720.01 101.24L720.97 101.04L721.94 100.84L722.90 100.65L723.87 100.45L724.83 100.25L725.79 100.06L726.76 99.87L727.72 99.67L728.68 99.48L729.65 99.29L730.61 99.10L731.58 98.92L732.54 98.73L733.50 98.54L734.47 98.36L735.43 98.18L736.39 97.99L737.36 97.81L738.32 97.63L739.29 97.45L740.25 97.27L741.21 97.10L742.18 96.92L743.14 96.74L744.10 96.57L745.07 96.40L746.03 96.22L747.00 96.05L747.96 95.88L748.92 95.71L749.89 95.54L750.85 95.38L751.81 95.21L752.78 95.04L753.74 94.88L754.71 94.71L755.67 94.55L756.63 94.39L757.60 94.23L758.56 94.07L759.52 93.91L760.49 93.75L761.45 93.59L762.42 93.43L763.38 93.28L764.34 93.12L765.31 92.97L766.27 92.81L767.23 92.66L768.20 92.51L769.16 92.36L770.13 92.21L771.09 92.06L772.05 91.91L773.02 91.76L773.98 91.61L774.94 91.46L775.91 91.32L776.87 91.17L777.84 91.03L778.80 90.88L779.76 90.74L780.73 90.60L781.69 90.46L782.65 90.32L783.62 90.17L784.58 90.03L785.55 89.90L786.51 89.76L787.47 89.62L788.44 89.48L789.40 89.34" stroke="#808080" stroke-width="4.3" stroke-dasharray="9.5 7.07 2 7.07" stroke-dashoffset="1.32"/>
<path d="M157.78 420.08L159.05 419.92L160.31 419.75L161.58 419.57L162.84 419.37L164.11 419.17L165.37 418.96L166.64 418.73L167.91 418.49L169.17 418.24L170.44 417.98L171.70 417.70L172.97 417.41L174.24 417.11L175.50 416.78L176.77 416.45L178.03 416.09L179.30 415.72L180.56 415.32L181.83 414.91L183.10 414.47L184.36 414.02L185.63 413.54L186.89 413.03L188.16 412.49L189.42 411.93L190.69 411.34L191.96 410.71L193.22 410.05L194.49 409.35L195.75 408.61L197.02 407.83L198.28 407.00L199.55 406.13L200.82 405.20L202.08 404.21L203.35 403.17L204.61 402.05L205.88 400.87L207.15 399.61L208.41 398.27L209.68 396.84L210.94 395.31L212.21 393.69L213.47 391.96L214.74 390.12L216.01 388.18L217.27 386.12L218.54 383.94L219.80 381.64L221.07 379.22L222.33 376.67L223.60 374.00L224.87 371.21L226.13 368.29L227.40 365.24L228.66 362.08L229.93 358.79L231.19 355.40L232.46 351.89L233.73 348.29L234.99 344.59L236.26 340.81L237.52 336.95L238.79 333.03L240.06 329.06L241.32 325.05L242.59 321.01L243.85 316.96L245.12 312.91L246.38 308.85L247.65 304.80L248.92 300.76L250.18 296.73L251.45 292.71L252.71 288.70L253.98 284.72L255.24 280.75L256.51 276.80L257.78 272.89L259.04 269.01L260.31 265.18L261.57 261.42L262.84 257.73L264.10 254.11L265.37 250.58L266.64 247.13L267.90 243.75L269.17 240.44L270.43 237.18L271.70 233.97L272.97 230.81L274.23 227.69L275.50 224.60L276.76 221.55L278.03 218.56L279.29 215.63L280.56 212.77L281.83 209.98L283.09 207.27L284.36 204.62L285.62 202.04L286.89 199.53L288.15 197.07L289.42 194.68L290.69 192.35L291.95 190.07L293.22 187.84L294.48 185.67L295.75 183.54L297.01 181.46L298.28 179.43L299.55 177.44L300.81 175.49L302.08 173.57L303.34 171.70L304.61 169.87L305.88 168.08L307.14 166.32L308.41 164.60L309.67 162.91L310.94 161.26L312.20 159.64L313.47 158.06L314.74 156.50L316.00 154.98L317.27 153.49L318.53 152.02L319.80 150.59L321.06 149.18L322.33 147.80L323.60 146.45L324.86 145.12L326.13 143.82L327.39 142.54L328.66 141.29L329.92 140.06L331.19 138.86L332.46 137.68L333.72 136.52L334.99 135.39L336.25 134.28L337.52 133.19L338.79 132.12L340.05 131.08L341.32 130.05L342.58 129.05L343.85 128.06L345.11 127.10L346.38 126.15L347.65 125.22L348.91 124.31L350.18 123.42L351.44 122.55L352.71 121.69L353.97 120.85L355.24 120.03L356.51 119.23L357.77 118.44L359.04 117.66L360.30 116.90L361.57 116.16L362.83 115.43L364.10 114.71L365.37 114.01L366.63 113.33L367.90 112.65L369.16 111.99L370.43 111.34L371.70 110.71L372.96 110.08L374.23 109.47L375.49 108.87L376.76 108.29L378.02 107.71L379.29 107.15L380.56 106.59L381.82 106.05L383.09 105.51L384.35 104.99L385.62 104.48L386.88 103.97L388.15 103.48L389.42 102.99L390.68 102.51L391.95 102.05L393.21 101.59L394.48 101.14L395.75 100.69L397.01 100.26L398.28 99.83L399.54 99.41L400.81 99.00L402.07 98.60L403.34 98.20L404.61 97.81L405.87 97.42L407.14 97.05L408.40 96.68L409.67 96.31L410.93 95.95L412.20 95.60L413.47 95.26L414.73 94.92L416.00 94.58L417.26 94.25L418.53 93.93L419.79 93.61L421.06 93.30L422.33 92.99L423.59 92.68L424.86 92.39L426.12 92.09L427.39 91.80L428.66 91.52L429.92 91.24L431.19 90.96L432.45 90.69L433.72 90.42L434.98 90.15L436.25 89.89L437.52 89.63L438.78 89.38L440.05 89.13L441.31 88.88L442.58 88.64L443.84 88.40L445.11 88.16L446.38 87.92L447.64 87.69L448.91 87.46L450.17 87.24L451.44 87.01L452.70 86.79L453.97 86.57L455.24 86.36L456.50 86.15L457.77 85.93L459.03 85.73L460.30 85.52L461.57 85.31L462.83 85.11L464.10 84.91L465.36 84.71L466.63 84.52L467.89 84.32L469.16 84.13L470.43 83.93L471.69 83.74L472.96 83.56L474.22 83.37L475.49 83.18L476.75 83.00L478.02 82.82L479.29 82.63L480.55 82.45L481.82 82.27L483.08 82.10L484.35 81.92L485.61 81.75L486.88 81.57L488.15 81.40L489.41 81.23L490.68 81.06L491.94 80.89L493.21 80.72L494.48 80.56L495.74 80.39L497.01 80.23L498.27 80.07L499.54 79.91L500.80 79.75L502.07 79.59L503.34 79.43L504.60 79.28L505.87 79.12L507.13 78.97L508.40 78.82L509.66 78.67L510.93 78.52L512.20 78.37L513.46 78.22L514.73 78.08L515.99 77.93L517.26 77.79L518.52 77.64L519.79 77.50L521.06 77.36L522.32 77.22L523.59 77.08L524.85 76.95L526.12 76.81L527.39 76.67L528.65 76.54L529.92 76.41L531.18 76.27L532.45 76.14L533.71 76.01L534.98 75.88L536.25 75.76L537.51 75.63L538.78 75.50L540.04 75.38L541.31 75.25L542.57 75.13L543.84 75.01L545.11 74.89L546.37 74.77L547.64 74.65L548.90 74.53L550.17 74.41L551.43 74.29L552.70 74.18L553.97 74.06L555.23 73.95L556.50 73.84L557.76 73.73L559.03 73.61L560.30 73.50L561.56 73.39L562.83 73.29L564.09 73.18L565.36 73.07L566.62 72.97L567.89 72.86L569.16 72.76L570.42 72.65L571.69 72.55L572.95 72.45L574.22 72.35L575.48 72.25L576.75 72.15L578.02 72.05L579.28 71.95L580.55 71.86L581.81 71.76L583.08 71.66L584.35 71.57L585.61 71.48L586.88 71.38L588.14 71.29L589.41 71.20L590.67 71.11L591.94 71.02L593.21 70.93L594.47 70.84L595.74 70.75L597.00 70.66L598.27 70.58L599.53 70.49L600.80 70.41L602.07 70.32L603.33 70.24L604.60 70.16L605.86 70.07L607.13 69.99L608.39 69.91L609.66 69.83L610.93 69.75L612.19 69.67L613.46 69.59L614.72 69.52L615.99 69.44L617.26 69.36L618.52 69.29L619.79 69.21L621.05 69.14L622.32 69.06L623.58 68.99L624.85 68.92L626.12 68.85L627.38 68.77L628.65 68.70L629.91 68.63L631.18 68.56L632.44 68.49L633.71 68.43L634.98 68.36L636.24 68.29L637.51 68.22L638.77 68.16L640.04 68.09L641.30 68.03L642.57 67.96L643.84 67.90L645.10 67.84L646.37 67.77L647.63 67.71L648.90 67.65L650.17 67.59L651.43 67.53L652.70 67.47L653.96 67.41L655.23 67.35L656.49 67.29L657.76 67.23L659.03 67.18L660.29 67.12L661.56 67.06L662.82 67.01L664.09 66.95L665.35 66.90L666.62 66.84L667.89 66.79L669.15 66.73L670.42 66.68L671.68 66.63L672.95 66.58L674.21 66.53L675.48 66.47L676.75 66.42L678.01 66.37L679.28 66.32L680.54 66.28L681.81 66.23L683.08 66.18L684.34 66.13L685.61 66.08L686.87 66.04L688.14 65.99L689.40 65.95L690.67 65.90L691.94 65.85L693.20 65.81L694.47 65.77L695.73 65.72L697.00 65.68L698.26 65.64L699.53 65.59L700.80 65.55L702.06 65.51L703.33 65.47L704.59 65.43L705.86 65.39L707.12 65.35L708.39 65.31L709.66 65.27L710.92 65.23L712.19 65.19L713.45 65.16L714.72 65.12L715.99 65.08L717.25 65.05L718.52 65.01L719.78 64.97L721.05 64.94L722.31 64.90L723.58 64.87L724.85 64.83L726.11 64.80L727.38 64.77L728.64 64.73L729.91 64.70L731.17 64.67L732.44 64.64L733.71 64.61L734.97 64.57L736.24 64.54L737.50 64.51L738.77 64.48L740.03 64.45L741.30 64.42L742.57 64.40L743.83 64.37L745.10 64.34L746.36 64.31L747.63 64.28L748.90 64.26L750.16 64.23L751.43 64.20L752.69 64.18L753.96 64.15L755.22 64.13L756.49 64.10L757.76 64.08L759.02 64.05L760.29 64.03L761.55 64.00L762.82 63.98L764.08 63.96L765.35 63.94L766.62 63.91L767.88 63.89L769.15 63.87L770.41 63.85L771.68 63.83L772.94 63.81L774.21 63.79L775.48 63.77L776.74 63.75L778.01 63.73L779.27 63.71L780.54 63.69L781.81 63.67L783.07 63.66L784.34 63.64L785.60 63.62L786.87 63.60L788.13 63.59L789.40 63.57" stroke="#0000ff" stroke-width="4.15"/>
</g>
<line x1="298.14" y1="31.85" x2="298.14" y2="422.10" stroke="#000" stroke-opacity="0.72" stroke-width="1.3"/>
<g clip-path="url(#clip)">
<circle cx="253.51" cy="422.20" r="4.0" fill="#ff0000"/>
<circle cx="288.49" cy="422.20" r="4.0" fill="#ff0000"/>
<circle cx="323.69" cy="422.20" r="4.0" fill="#ff0000"/>
<circle cx="358.81" cy="422.20" r="4.0" fill="#ff0000"/>
<path d="M398.11 339.93V356.33M391.81 339.93H404.41M391.81 356.33H404.41" stroke="#ff0000" stroke-width="1.1" fill="none"/>
<circle cx="398.11" cy="348.13" r="4.0" fill="#ff0000"/>
<path d="M433.06 282.23V301.63M426.76 282.23H439.36M426.76 301.63H439.36" stroke="#ff0000" stroke-width="1.1" fill="none"/>
<circle cx="433.06" cy="291.93" r="4.0" fill="#ff0000"/>
<path d="M468.54 215.16V228.76M462.24 215.16H474.84M462.24 228.76H474.84" stroke="#ff0000" stroke-width="1.1" fill="none"/>
<circle cx="468.54" cy="221.96" r="4.0" fill="#ff0000"/>
<path d="M503.10 170.68V179.88M496.80 170.68H509.40M496.80 179.88H509.40" stroke="#ff0000" stroke-width="1.1" fill="none"/>
<circle cx="503.10" cy="175.28" r="4.0" fill="#ff0000"/>
<path d="M538.16 137.91V145.51M531.86 137.91H544.46M531.86 145.51H544.46" stroke="#ff0000" stroke-width="1.1" fill="none"/>
<circle cx="538.16" cy="141.71" r="4.0" fill="#ff0000"/>
<path d="M573.25 116.80V123.60M566.95 116.80H579.55M566.95 123.60H579.55" stroke="#ff0000" stroke-width="1.1" fill="none"/>
<circle cx="573.25" cy="120.20" r="4.0" fill="#ff0000"/>
<path d="M608.55 107.64V114.14M602.25 107.64H614.85M602.25 114.14H614.85" stroke="#ff0000" stroke-width="1.1" fill="none"/>
<circle cx="608.55" cy="110.89" r="4.0" fill="#ff0000"/>
<path d="M643.39 98.21V104.81M637.09 98.21H649.69M637.09 104.81H649.69" stroke="#ff0000" stroke-width="1.1" fill="none"/>
<circle cx="643.39" cy="101.51" r="4.0" fill="#ff0000"/>
<path d="M678.52 85.57V92.37M672.22 85.57H684.82M672.22 92.37H684.82" stroke="#ff0000" stroke-width="1.1" fill="none"/>
<circle cx="678.52" cy="88.97" r="4.0" fill="#ff0000"/>
<path d="M713.54 82.00V87.30M707.24 82.00H719.84M707.24 87.30H719.84" stroke="#ff0000" stroke-width="1.1" fill="none"/>
<circle cx="713.54" cy="84.65" r="4.0" fill="#ff0000"/>
<path d="M748.66 78.80V84.10M742.36 78.80H754.96M742.36 84.10H754.96" stroke="#ff0000" stroke-width="1.1" fill="none"/>
<circle cx="748.66" cy="81.45" r="4.0" fill="#ff0000"/>
<path d="M783.79 77.55V82.15M777.49 77.55H790.09M777.49 82.15H790.09" stroke="#ff0000" stroke-width="1.1" fill="none"/>
<circle cx="783.79" cy="79.85" r="4.0" fill="#ff0000"/>
</g>
<g stroke="#000" stroke-width="0.95">
<line x1="192.87" y1="422.10" x2="192.87" y2="412.50"/>
<line x1="192.87" y1="31.85" x2="192.87" y2="41.45"/>
<line x1="227.96" y1="422.10" x2="227.96" y2="403.10"/>
<line x1="227.96" y1="31.85" x2="227.96" y2="50.85"/>
<line x1="263.05" y1="422.10" x2="263.05" y2="412.50"/>
<line x1="263.05" y1="31.85" x2="263.05" y2="41.45"/>
<line x1="298.14" y1="422.10" x2="298.14" y2="403.10"/>
<line x1="298.14" y1="31.85" x2="298.14" y2="50.85"/>
<line x1="333.23" y1="422.10" x2="333.23" y2="412.50"/>
<line x1="333.23" y1="31.85" x2="333.23" y2="41.45"/>
<line x1="368.32" y1="422.10" x2="368.32" y2="403.10"/>
<line x1="368.32" y1="31.85" x2="368.32" y2="50.85"/>
<line x1="403.41" y1="422.10" x2="403.41" y2="412.50"/>
<line x1="403.41" y1="31.85" x2="403.41" y2="41.45"/>
<line x1="438.50" y1="422.10" x2="438.50" y2="403.10"/>
<line x1="438.50" y1="31.85" x2="438.50" y2="50.85"/>
<line x1="473.59" y1="422.10" x2="473.59" y2="412.50"/>
<line x1="473.59" y1="31.85" x2="473.59" y2="41.45"/>
<line x1="508.68" y1="422.10" x2="508.68" y2="403.10"/>
<line x1="508.68" y1="31.85" x2="508.68" y2="50.85"/>
<line x1="543.77" y1="422.10" x2="543.77" y2="412.50"/>
<line x1="543.77" y1="31.85" x2="543.77" y2="41.45"/>
<line x1="578.86" y1="422.10" x2="578.86" y2="403.10"/>
<line x1="578.86" y1="31.85" x2="578.86" y2="50.85"/>
<line x1="613.95" y1="422.10" x2="613.95" y2="412.50"/>
<line x1="613.95" y1="31.85" x2="613.95" y2="41.45"/>
<line x1="649.04" y1="422.10" x2="649.04" y2="403.10"/>
<line x1="649.04" y1="31.85" x2="649.04" y2="50.85"/>
<line x1="684.13" y1="422.10" x2="684.13" y2="412.50"/>
<line x1="684.13" y1="31.85" x2="684.13" y2="41.45"/>
<line x1="719.22" y1="422.10" x2="719.22" y2="403.10"/>
<line x1="719.22" y1="31.85" x2="719.22" y2="50.85"/>
<line x1="754.31" y1="422.10" x2="754.31" y2="412.50"/>
<line x1="754.31" y1="31.85" x2="754.31" y2="41.45"/>
<line x1="157.90" y1="384.98" x2="167.50" y2="384.98"/>
<line x1="789.25" y1="384.98" x2="779.65" y2="384.98"/>
<line x1="157.90" y1="347.76" x2="176.90" y2="347.76"/>
<line x1="789.25" y1="347.76" x2="770.25" y2="347.76"/>
<line x1="157.90" y1="310.54" x2="167.50" y2="310.54"/>
<line x1="789.25" y1="310.54" x2="779.65" y2="310.54"/>
<line x1="157.90" y1="273.32" x2="176.90" y2="273.32"/>
<line x1="789.25" y1="273.32" x2="770.25" y2="273.32"/>
<line x1="157.90" y1="236.10" x2="167.50" y2="236.10"/>
<line x1="789.25" y1="236.10" x2="779.65" y2="236.10"/>
<line x1="157.90" y1="198.88" x2="176.90" y2="198.88"/>
<line x1="789.25" y1="198.88" x2="770.25" y2="198.88"/>
<line x1="157.90" y1="161.66" x2="167.50" y2="161.66"/>
<line x1="789.25" y1="161.66" x2="779.65" y2="161.66"/>
<line x1="157.90" y1="124.44" x2="176.90" y2="124.44"/>
<line x1="789.25" y1="124.44" x2="770.25" y2="124.44"/>
<line x1="157.90" y1="87.22" x2="167.50" y2="87.22"/>
<line x1="789.25" y1="87.22" x2="779.65" y2="87.22"/>
<line x1="157.90" y1="50.00" x2="176.90" y2="50.00"/>
<line x1="789.25" y1="50.00" x2="770.25" y2="50.00"/>
</g>
<rect x="157.90" y="31.85" width="631.35" height="390.25" fill="none" stroke="#000" stroke-width="2.75"/>
<g font-size="37" fill="#000" stroke="#000" stroke-width="0.35" opacity="0.999">
<text x="157.78" y="463.3" text-anchor="middle">−4</text>
<text x="227.96" y="463.3" text-anchor="middle">−2</text>
<text x="298.14" y="463.3" text-anchor="middle">0</text>
<text x="368.32" y="463.3" text-anchor="middle">2</text>
<text x="438.50" y="463.3" text-anchor="middle">4</text>
<text x="508.68" y="463.3" text-anchor="middle">6</text>
<text x="578.86" y="463.3" text-anchor="middle">8</text>
<text x="649.04" y="463.3" text-anchor="middle">10</text>
<text x="719.22" y="463.3" text-anchor="middle">12</text>
<text x="789.40" y="463.3" text-anchor="middle">14</text>
<text x="148.3" y="432.20" text-anchor="end">0</text>
<text x="148.3" y="357.76" text-anchor="end">0.2</text>
<text x="148.3" y="283.32" text-anchor="end">0.4</text>
<text x="148.3" y="208.88" text-anchor="end">0.6</text>
<text x="148.3" y="134.44" text-anchor="end">0.8</text>
<text x="148.3" y="60.00" text-anchor="end">1</text>
<text x="200.8" y="102.65" font-size="33.5">(</text>
<text x="212.4" y="103.7" font-size="38.8">a</text>
<text x="229.9" y="102.65" font-size="33.5">)</text>
<text transform="translate(70.4,227.5) rotate(-90)" text-anchor="middle" font-style="italic">Z</text>
<text x="396.2" y="525.8">ln</text>
<text x="423.0" y="524.7" font-size="33.5">(</text>
<text x="460.2" y="525.8" font-style="italic">n</text>
<text x="479.0" y="531.6" font-size="26">0</text>
<text x="490.6" y="525.8" font-style="italic">a</text>
<text x="508.6" y="531.6" font-size="26">2D</text>
<text x="541.0" y="524.7" font-size="33.5">)</text>
</g>
<path d="M437.3 518.2L441.2 515.6L450.2 533.2L457.2 499.4H490.8" fill="none" stroke="#000" stroke-width="1.5" stroke-linejoin="miter"/>
<path d="M440.6 516.2L449.6 532.4" fill="none" stroke="#000" stroke-width="3.0"/>
</svg></body></html>
